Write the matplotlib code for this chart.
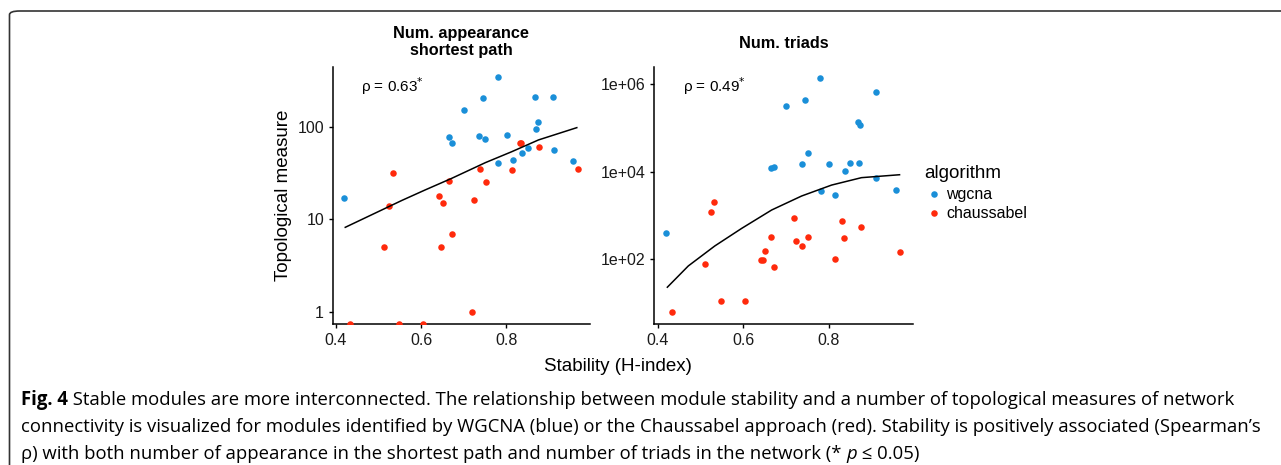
import numpy as np
import matplotlib
matplotlib.use("Agg")
import matplotlib.pyplot as plt
from matplotlib.lines import Line2D
from matplotlib.patches import FancyBboxPatch

W, H = 1281, 465

# ---------------- data ----------------
algorithms = ["wgcna", "chaussabel"]
colors = {"wgcna": "#1a8fd8", "chaussabel": "#ff2a0c"}

wgcna_stability = [0.420, 0.666, 0.673, 0.700, 0.737, 0.745, 0.751, 0.780, 0.782, 0.802,
                   0.815, 0.838, 0.851, 0.868, 0.871, 0.874, 0.911, 0.912, 0.957]
wgcna_shortest = [17, 78, 67, 151, 80, 202, 73, 341, 41, 81,
                  44, 52, 59, 209, 94, 113, 209, 56, 43]
wgcna_triads = [386, 12200, 12400, 3.1e5, 1.46e4, 4.4e5, 2.7e4, 1.42e6, 3640, 1.46e4,
                2900, 1.03e4, 1.58e4, 1.37e5, 1.58e4, 1.14e5, 6.5e5, 7000, 3780]

chaus_stability = [0.433, 0.512, 0.524, 0.533, 0.549, 0.604, 0.642, 0.647, 0.652, 0.666,
                   0.673, 0.719, 0.724, 0.738, 0.752, 0.814, 0.832, 0.836, 0.877, 0.968]
chaus_shortest = [0, 5, 14, 32, 0, 0, 18, 5, 15, 26,
                  7, 1, 16, 35, 25, 34, 67, 67, 60, 35]
chaus_triads = [6, 78, 1190, 2040, 11, 11, 93, 96, 152, 313,
                65, 880, 258, 198, 324, 102, 750, 302, 548, 145]

# fitted smooth curves
fit1_x = [0.422, 0.555, 0.609, 0.672, 0.751, 0.813, 0.876, 0.966]
fit1_y = [8.2, 16.0, 20.7, 27.7, 40.9, 53.7, 72.0, 97.7]
fit2_x = [0.423, 0.472, 0.534, 0.597, 0.667, 0.737, 0.807, 0.877, 0.966]
fit2_y = [22.5, 69, 198, 501, 1318, 2754, 4898, 7244, 8450]

panel_titles = ["Num. appearance\nshortest path", "Num. triads"]
rho_labels = ["0.63", "0.49"]
x_ticks = [0.4, 0.6, 0.8]
x_ticklabels = ["0.4", "0.6", "0.8"]
y1_ticks = [1, 10, 100]
y1_ticklabels = ["1", "10", "100"]
y2_ticks = [1e2, 1e4, 1e6]
y2_ticklabels = ["1e+02", "1e+04", "1e+06"]

caption_lines = [
    [("Fig. 4", "bold", "normal"),
     (" Stable modules are more interconnected. The relationship between module stability and a number of topological measures of network", "normal", "normal")],
    [("connectivity is visualized for modules identified by WGCNA (blue) or the Chaussabel approach (red). Stability is positively associated (Spearman\u2019s", "normal", "normal")],
    [("\u03c1) with both number of appearance in the shortest path and number of triads in the network (* ", "normal", "normal"),
     ("p", "normal", "italic"),
     (" \u2264 0.05)", "normal", "normal")],
]

# ---------------- figure ----------------
fig = plt.figure(figsize=(W / 100, H / 100), dpi=100)
fig.patch.set_facecolor("white")

def fx(px):
    return px / W

def fy(py):
    return 1 - py / H

# frame
frame = FancyBboxPatch((fx(9.5), fy(490)), fx(1300) - fx(9.5), fy(11) - fy(490),
                       boxstyle="round,pad=0,rounding_size=0.008",
                       transform=fig.transFigure, fill=False,
                       edgecolor="#333333", linewidth=1.2, clip_on=False)
fig.add_artist(frame)

SANS = "Liberation Sans"
xlim = (0.3925, 0.997)
ax_top, ax_bot = 66.7, 324.0

def make_axes(left_px, right_px):
    return fig.add_axes([fx(left_px), fy(ax_bot), fx(right_px) - fx(left_px),
                         fy(ax_top) - fy(ax_bot)])

ax1 = make_axes(332.7, 590.0)
ax2 = make_axes(654.3, 912.8)

ylims = [(10 ** -0.13, 10 ** 2.648), (10 ** 0.51, 10 ** 6.40)]
datasets = [(wgcna_shortest, chaus_shortest, fit1_x, fit1_y, y1_ticks, y1_ticklabels),
            (wgcna_triads, chaus_triads, fit2_x, fit2_y, y2_ticks, y2_ticklabels)]

for i, ax in enumerate([ax1, ax2]):
    wy, cy, fxs, fys, yt, ytl = datasets[i]
    ax.set_yscale("log")
    ax.set_xlim(*xlim)
    ax.set_ylim(*ylims[i])
    lo = ylims[i][0]
    # zero values are placed on the lower panel edge (like -Inf in ggplot)
    wy_plot = [v if v > 0 else lo for v in wy]
    cy_plot = [v if v > 0 else lo for v in cy]
    ax.scatter(wgcna_stability, wy_plot, s=22, color=colors["wgcna"], linewidths=0, zorder=3)
    ax.scatter(chaus_stability, cy_plot, s=22, color=colors["chaussabel"], linewidths=0, zorder=3)
    ax.plot(fxs, fys, color="black", linewidth=1.1, zorder=4)
    ax.set_xticks(x_ticks)
    ax.set_xticklabels(x_ticklabels)
    ax.set_yticks(yt)
    ax.set_yticklabels(ytl)
    ax.yaxis.set_minor_locator(matplotlib.ticker.NullLocator())
    for side in ["top", "right"]:
        ax.spines[side].set_visible(False)
    for side in ["left", "bottom"]:
        ax.spines[side].set_linewidth(1.1)
        ax.spines[side].set_color("black")
    ax.tick_params(axis="both", which="major", length=3.2, width=1.0, color="black",
                   labelsize=11.5, labelcolor="#1a1a1a", pad=3)
    for lab in ax.get_xticklabels() + ax.get_yticklabels():
        lab.set_fontfamily(SANS)
    ax.patch.set_alpha(0)

# panel titles
fig.text(fx(461), fy(42), panel_titles[0], ha="center", va="center", fontsize=11.7,
         fontweight="bold", family=SANS, linespacing=1.2)
fig.text(fx(784), fy(43), panel_titles[1], ha="center", va="center", fontsize=11.7,
         fontweight="bold", family=SANS)

# rho annotations
for xpx, lab in [(361, rho_labels[0]), (683, rho_labels[1])]:
    fig.text(fx(xpx), fy(86), "\u03c1 = " + lab + r"$^{*}$", ha="left", va="center",
             fontsize=11, family=SANS)

# axis titles
fig.text(fx(618), fy(366), "Stability (H-index)", ha="center", va="center",
         fontsize=13.5, family=SANS)
fig.text(fx(283), fy(195), "Topological measure", ha="center", va="center",
         rotation=90, fontsize=13.5, family=SANS)

# legend
fig.text(fx(924), fy(173), "algorithm", ha="left", va="center", fontsize=13.5, family=SANS)
for j, alg in enumerate(algorithms):
    ypx = 194 + j * 19
    fig.add_artist(Line2D([fx(933.5)], [fy(ypx)], marker="o", markersize=4.7, linestyle="none",
                          markerfacecolor=colors[alg], markeredgewidth=0,
                          transform=fig.transFigure))
    fig.text(fx(946), fy(ypx), alg, ha="left", va="center", fontsize=11.5, family=SANS)

# caption
fig.canvas.draw()
renderer = fig.canvas.get_renderer()
CAP = ["Open Sans", "DejaVu Sans"]
cap_base = [405, 432, 459]
for line, ypx in zip(caption_lines, cap_base):
    xpx = 21.0
    for txt, weight, style in line:
        t = fig.text(fx(xpx), fy(ypx), txt, ha="left", va="baseline", fontsize=13.35,
                     family=CAP, fontweight=weight, fontstyle=style)
        bb = t.get_window_extent(renderer=renderer)
        xpx += bb.width

fig.savefig("out.png", dpi=100, facecolor="white")
